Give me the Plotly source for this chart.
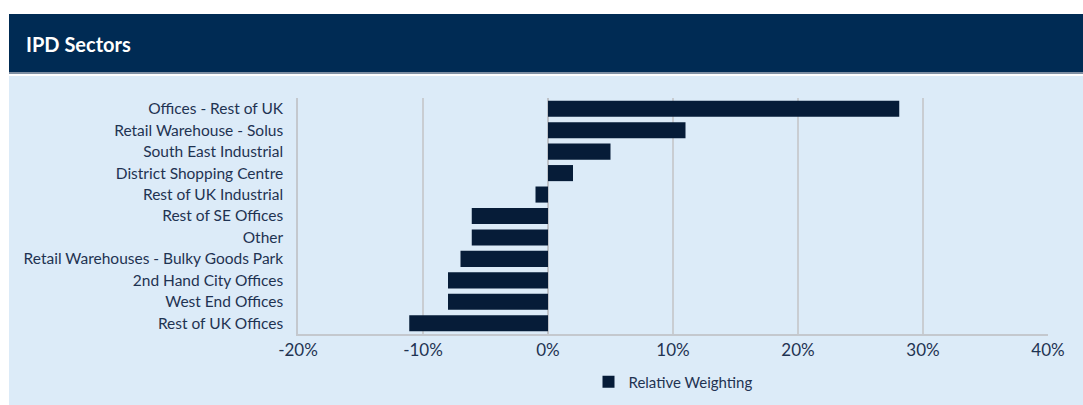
import plotly.graph_objects as go

categories = [
    "Offices - Rest of UK",
    "Retail Warehouse - Solus",
    "South East Industrial",
    "District Shopping Centre",
    "Rest of UK Industrial",
    "Rest of SE Offices",
    "Other",
    "Retail Warehouses - Bulky Goods Park",
    "2nd Hand City Offices",
    "West End Offices",
    "Rest of UK Offices",
]
relative_weighting = [28.1, 11.0, 5.0, 2.0, -1.0, -6.1, -6.1, -7.0, -8.0, -8.0, -11.1]
tick_vals = [-20, -10, 0, 10, 20, 30, 40]
tick_text = ["-20%", "-10%", "0%", "10%", "20%", "30%", "40%"]

W, H = 1083, 405
L, R, T, B = 298, 1048, 98, 334
pw, ph = R - L, B - T


def px(x):
    return (x - L) / pw


def py(y):
    return (B - y) / ph


FONT = "Lato, Open Sans, sans-serif"
TEXT = "#1f3352"

fig = go.Figure()
fig.add_trace(go.Bar(
    x=relative_weighting,
    y=categories,
    orientation="h",
    marker=dict(color="#061c38", line=dict(width=0)),
    name="Relative Weighting",
    showlegend=True,
))

shapes = [
    dict(type="rect", xref="paper", yref="paper", x0=px(9), x1=px(1083), y0=py(72), y1=py(14),
         fillcolor="#002b54", line=dict(width=0), layer="below"),
    dict(type="rect", xref="paper", yref="paper", x0=px(9), x1=px(1083), y0=py(74), y1=py(72),
         fillcolor="#7f8fa3", line=dict(width=0), layer="below"),
    dict(type="rect", xref="paper", yref="paper", x0=px(9), x1=px(1083), y0=py(405), y1=py(76),
         fillcolor="#dcebf8", line=dict(width=0), layer="below"),
]

fig.update_layout(
    width=W, height=H,
    margin=dict(l=L, r=W - R, t=T, b=H - B, pad=0, autoexpand=False),
    paper_bgcolor="white",
    plot_bgcolor="rgba(0,0,0,0)",
    font=dict(family=FONT, color=TEXT, size=14),
    bargap=0.25,
    shapes=shapes,
    annotations=[dict(text="<b>IPD Sectors</b>", xref="paper", yref="paper",
                      x=px(24), y=py(44), xanchor="left", yanchor="middle",
                      showarrow=False, font=dict(family=FONT, size=20, color="white"))],
    xaxis=dict(range=[-20, 40], tickvals=tick_vals, ticktext=tick_text,
               showgrid=True, gridcolor="#c9cdd2", gridwidth=1.5,
               zeroline=True, zerolinecolor="#bfc3c9", zerolinewidth=2,
               showline=True, linecolor="#c4c8ce", linewidth=1.5,
               ticks="", ticklabelstandoff=0, automargin=False,
               tickfont=dict(size=17, color=TEXT), fixedrange=True),
    yaxis=dict(autorange="reversed", showline=True, linecolor="#c4c8ce", linewidth=1.5,
               showgrid=False, ticks="", ticklabelstandoff=10, automargin=False,
               tickfont=dict(size=15.5, color=TEXT), fixedrange=True),
    legend=dict(orientation="h", x=0.5, xanchor="center", yref="container",
                y=1 - 382 / H, yanchor="middle",
                bgcolor="rgba(0,0,0,0)", font=dict(size=15, color=TEXT)),
)

fig.write_html("out.html")
